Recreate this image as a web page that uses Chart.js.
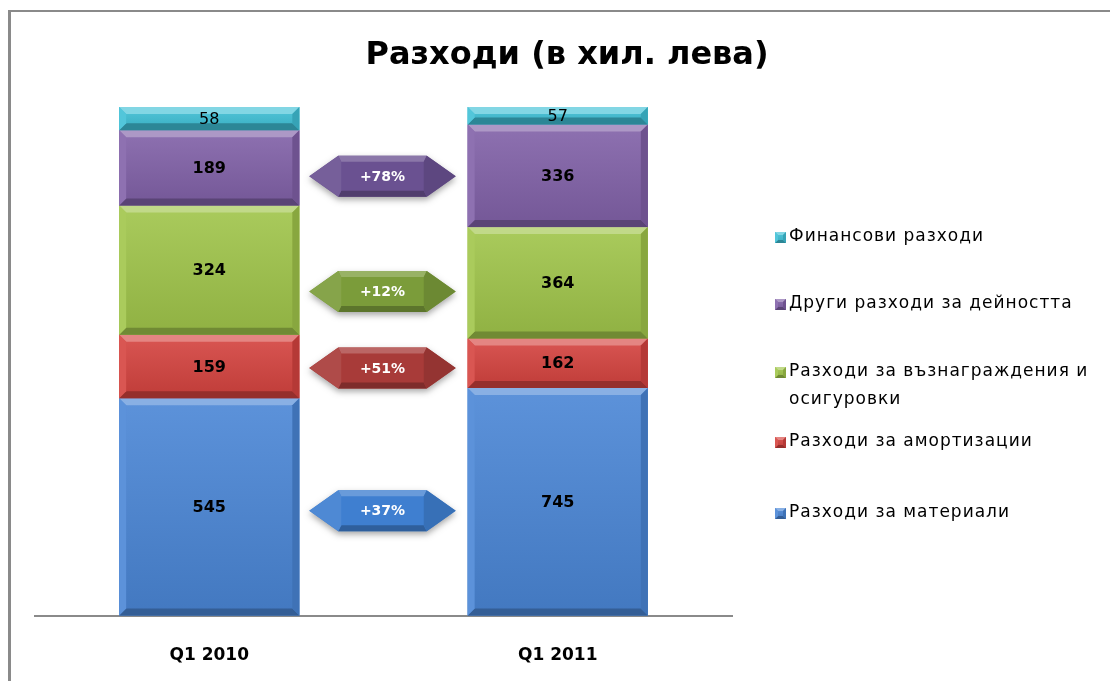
<!DOCTYPE html>
<html>
<head>
<meta charset="utf-8">
<script src="https://cdn.jsdelivr.net/npm/chart.js@4.4.1/dist/chart.umd.min.js"></script>
<style>
  html, body { margin: 0; padding: 0; background: #fff; }
  #wrap { width: 1110px; height: 681px; }
</style>
</head>
<body>
<div id="wrap"><canvas id="costs" width="1110" height="681"></canvas></div>
<script>
// values (хил. лева), bottom of the stack first
const categories = ['Q1 2010', 'Q1 2011'];
const materials = [545, 745];
const depreciation = [159, 162];
const salaries = [324, 364];
const otherCosts = [189, 336];
const financeCosts = [58, 57];
const seriesNames = [
  'Разходи за материали',
  'Разходи за амортизации',
  'Разходи за възнаграждения и осигуровки',
  'Други разходи за дейността',
  'Финансови разходи'
];
// change badges between the columns (text + level in % of the column)
const changeLabels = ['+37%', '+51%', '+12%', '+78%'];
const changeLevels = [20.6, 48.7, 63.7, 86.4];

const series = [materials, depreciation, salaries, otherCosts, financeCosts];
const totals = categories.map((c, j) => series.reduce((s, arr) => s + arr[j], 0));

const barColors = ['#4a86d6', '#d5433f', '#a0c54a', '#8161a8', '#3fc0d6'];
const badgeColors = ['#3f7fd0', '#a83b39', '#7b9c3a', '#6a5191'];
const FONT = '"DejaVu Sans", sans-serif';

// legend layout (right side)
const legendX = 775;
const legendRows = [513, 442, 372, 304, 237];   // per dataset index
const legendLines = [
  ['Разходи за материали'],
  ['Разходи за амортизации'],
  ['Разходи за възнаграждения и', 'осигуровки'],
  ['Други разходи за дейността'],
  ['Финансови разходи']
];

function shade(hex, amt) {
  const n = parseInt(hex.slice(1), 16);
  let r = n >> 16, g = (n >> 8) & 255, b = n & 255;
  const f = v => Math.max(0, Math.min(255, Math.round(amt > 0 ? v + (255 - v) * amt : v * (1 + amt))));
  return 'rgb(' + f(r) + ',' + f(g) + ',' + f(b) + ')';
}

function bevelRect(c, left, top, w, h, color, e) {
  c.fillStyle = color;
  c.fillRect(left, top, w, h);
  const g = c.createLinearGradient(0, top, 0, top + h);
  g.addColorStop(0, 'rgba(255,255,255,0.10)');
  g.addColorStop(1, 'rgba(0,0,0,0.10)');
  c.fillStyle = g;
  c.fillRect(left, top, w, h);
  e = Math.min(e, h / 2, w / 2);
  const r = left + w, b = top + h;
  // top
  c.fillStyle = shade(color, 0.35);
  c.beginPath(); c.moveTo(left, top); c.lineTo(r, top); c.lineTo(r - e, top + e); c.lineTo(left + e, top + e); c.closePath(); c.fill();
  // bottom
  c.fillStyle = shade(color, -0.3);
  c.beginPath(); c.moveTo(left, b); c.lineTo(r, b); c.lineTo(r - e, b - e); c.lineTo(left + e, b - e); c.closePath(); c.fill();
  // left
  c.fillStyle = shade(color, 0.1);
  c.beginPath(); c.moveTo(left, top); c.lineTo(left + e, top + e); c.lineTo(left + e, b - e); c.lineTo(left, b); c.closePath(); c.fill();
  // right
  c.fillStyle = shade(color, -0.15);
  c.beginPath(); c.moveTo(r, top); c.lineTo(r - e, top + e); c.lineTo(r - e, b - e); c.lineTo(r, b); c.closePath(); c.fill();
}

const decor = {
  id: 'decor',
  beforeDraw(chart) {
    const c = chart.ctx;
    c.save();
    c.fillStyle = '#fff';
    c.fillRect(0, 0, chart.width, chart.height);
    c.fillStyle = '#8a8a8a';
    c.fillRect(9, 10, chart.width - 9, 2);
    c.fillRect(8, 10, 3, chart.height - 10);
    // title
    c.fillStyle = '#000';
    c.font = 'bold 32px ' + FONT;
    c.textAlign = 'center';
    c.textBaseline = 'middle';
    c.fillText('Разходи (в хил. лева)', 567, 56);
    c.restore();
  },
  afterDatasetsDraw(chart) {
    const c = chart.ctx;
    c.save();
    // bevelled segments + value labels
    chart.data.datasets.forEach((ds, i) => {
      chart.getDatasetMeta(i).data.forEach((bar, j) => {
        const p = bar.getProps(['x', 'y', 'base', 'width'], true);
        const left = p.x - p.width / 2;
        const top = Math.min(p.y, p.base);
        const h = Math.abs(p.base - p.y);
        bevelRect(c, left, top, p.width, h, barColors[i], 7);
        c.fillStyle = '#000';
        c.textAlign = 'center';
        c.textBaseline = 'middle';
        c.font = (i === 4 ? '' : 'bold ') + '16px ' + FONT;
        c.fillText(String(ds.raw[j]), p.x, top + h / 2 + 1);
      });
    });
    // change badges
    const y = chart.scales.y;
    changeLabels.forEach((txt, k) => {
      const b0 = chart.getDatasetMeta(k).data[0];
      const b1 = chart.getDatasetMeta(k).data[1];
      const xL = b0.x + b0.width / 2, xR = b1.x - b1.width / 2;
      const cx = (xL + xR) / 2 - 1, hw = (xR - xL) * 0.435, hh = 20.5, ins = 29;
      const cy = y.getPixelForValue(changeLevels[k]);
      const col = badgeColors[k];
      const path = () => {
        c.beginPath();
        c.moveTo(cx - hw, cy);
        c.lineTo(cx - hw + ins, cy - hh);
        c.lineTo(cx + hw - ins, cy - hh);
        c.lineTo(cx + hw, cy);
        c.lineTo(cx + hw - ins, cy + hh);
        c.lineTo(cx - hw + ins, cy + hh);
        c.closePath();
      };
      c.save();
      c.shadowColor = 'rgba(0,0,0,0.35)';
      c.shadowBlur = 6;
      c.shadowOffsetY = 3;
      c.fillStyle = col;
      path(); c.fill();
      c.restore();
      // upper facet
      c.fillStyle = shade(col, 0.22);
      c.beginPath();
      c.moveTo(cx - hw + ins, cy - hh);
      c.lineTo(cx + hw - ins, cy - hh);
      c.lineTo(cx + hw - ins - 3, cy - hh + 6);
      c.lineTo(cx - hw + ins + 3, cy - hh + 6);
      c.closePath(); c.fill();
      // lower facet
      c.fillStyle = shade(col, -0.25);
      c.beginPath();
      c.moveTo(cx - hw + ins, cy + hh);
      c.lineTo(cx + hw - ins, cy + hh);
      c.lineTo(cx + hw - ins - 3, cy + hh - 6);
      c.lineTo(cx - hw + ins + 3, cy + hh - 6);
      c.closePath(); c.fill();
      // side facets
      c.fillStyle = shade(col, 0.08);
      c.beginPath();
      c.moveTo(cx - hw, cy); c.lineTo(cx - hw + ins, cy - hh); c.lineTo(cx - hw + ins + 3, cy - hh + 6);
      c.lineTo(cx - hw + ins + 3, cy + hh - 6); c.lineTo(cx - hw + ins, cy + hh); c.closePath(); c.fill();
      c.fillStyle = shade(col, -0.12);
      c.beginPath();
      c.moveTo(cx + hw, cy); c.lineTo(cx + hw - ins, cy - hh); c.lineTo(cx + hw - ins - 3, cy - hh + 6);
      c.lineTo(cx + hw - ins - 3, cy + hh - 6); c.lineTo(cx + hw - ins, cy + hh); c.closePath(); c.fill();
      c.fillStyle = '#fff';
      c.font = 'bold 14px ' + FONT;
      c.textAlign = 'center';
      c.textBaseline = 'middle';
      c.fillText(txt, cx, cy + 1);
    });
    // legend
    chart.data.datasets.forEach((ds, i) => {
      const ly = legendRows[i];
      bevelRect(c, legendX, ly - 5, 11, 11, barColors[i], 3);
      c.fillStyle = '#000';
      c.font = '17px ' + FONT;
      c.letterSpacing = '1px';
      c.textAlign = 'left';
      c.textBaseline = 'middle';
      legendLines[i].forEach((line, n) => c.fillText(line, legendX + 14, ly + n * 28));
      c.letterSpacing = '0px';
    });
    c.restore();
  }
};

new Chart(document.getElementById('costs'), {
  type: 'bar',
  data: {
    labels: categories,
    datasets: seriesNames.map((name, i) => ({
      label: name,
      data: series[i].map((v, j) => v / totals[j] * 100),
      raw: series[i],
      backgroundColor: barColors[i],
      borderWidth: 0,
      barPercentage: 0.517,
      categoryPercentage: 1
    }))
  },
  options: {
    responsive: false,
    animation: false,
    devicePixelRatio: 1,
    layout: { padding: { left: 35, right: 378, top: 107, bottom: -15 } },
    scales: {
      x: {
        stacked: true,
        grid: { display: false, drawTicks: false },
        border: { display: true, color: '#8a8a8a', width: 2 },
        ticks: { color: '#000', padding: 30, font: { family: FONT, size: 17, weight: 'bold' } }
      },
      y: { stacked: true, display: false, min: 0, max: 100 }
    },
    plugins: {
      legend: { display: false },
      title: { display: false },
      tooltip: { enabled: false }
    }
  },
  plugins: [decor]
});
</script>
</body>
</html>
